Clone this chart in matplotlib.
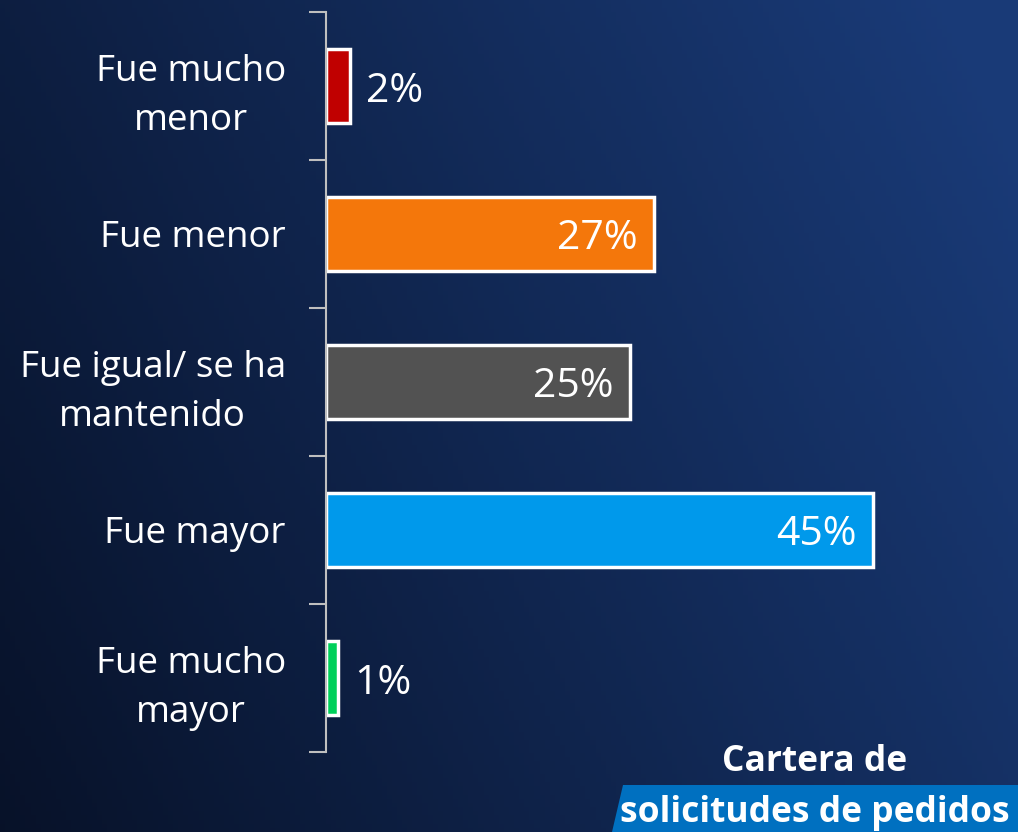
import numpy as np
import matplotlib.pyplot as plt
from matplotlib.patches import Polygon

# data
categorias = ["Fue mucho\nmenor", "Fue menor", "Fue igual/ se ha\nmantenido", "Fue mayor", "Fue mucho\nmayor"]
valores = [2, 27, 25, 45, 1]
colores = ["#c00000", "#f4770b", "#525252", "#0099eb", "#00d05a"]

plt.rcParams['font.family'] = ['Open Sans', 'DejaVu Sans']

fig = plt.figure(figsize=(10.18, 8.32), dpi=100)

# background gradient
bg = fig.add_axes([0, 0, 1, 1], zorder=-10)
xx, yy = np.meshgrid(np.linspace(0, 1, 200), np.linspace(0, 1, 200))
t = np.clip(0.75 * xx + 0.3 * yy, 0, 1)
c0 = np.array([0.03, 0.07, 0.16])
c1 = np.array([0.10, 0.23, 0.47])
img = c0[None, None, :] * (1 - t[..., None]) + c1[None, None, :] * t[..., None]
bg.imshow(img, origin='lower', extent=[0, 1, 0, 1], aspect='auto')
bg.axis('off')

ax = fig.add_axes([0.3203, 0.0962, 0.6797, 0.8894])
ax.set_facecolor('none')
y = np.arange(len(categorias))
ax.barh(y, valores, height=0.5, color=colores, edgecolor='white', linewidth=2.5)
ax.set_ylim(len(categorias) - 0.5, -0.5)
ax.set_xlim(0, 56.9)

ax.set_yticks(y)
ax.set_yticklabels(categorias, color='white', fontsize=26.5, linespacing=1.45,
                   multialignment='center')
ax.tick_params(axis='y', length=0, pad=29)
ax.set_yticks(np.arange(len(categorias) + 1) - 0.5, minor=True)
ax.tick_params(axis='y', which='minor', length=12, width=1.5, color='#bfbfbf')
ax.set_xticks([])
for s in ['top', 'right', 'bottom']:
    ax.spines[s].set_visible(False)
ax.spines['left'].set_color('#bfbfbf')
ax.spines['left'].set_linewidth(1.5)

for i, v in enumerate(valores):
    if v >= 10:
        ax.text(v - 1.4, i + 0.035, f"{v}%", ha='right', va='center', color='white',
                fontsize=29.5)
    else:
        ax.text(v + 1.3, i + 0.04, f"{v}%", ha='left', va='center', color='white',
                fontsize=29.5)

# caption bottom right
fig.patches.append(Polygon([[612 / 1018, 0], [623 / 1018, 1 - 785 / 832], [1, 1 - 785 / 832], [1, 0]],
                           closed=True, transform=fig.transFigure, facecolor='#0070c0', edgecolor='none'))
fig.text(815 / 1018, 1 - 762 / 832, "Cartera de", ha='center', va='center', color='white',
         fontsize=25.5, fontweight='bold')
fig.text(815 / 1018, 1 - 813 / 832, "solicitudes de pedidos", ha='center', va='center', color='white',
         fontsize=25.5, fontweight='bold')

fig.savefig('out.png', dpi=100)
